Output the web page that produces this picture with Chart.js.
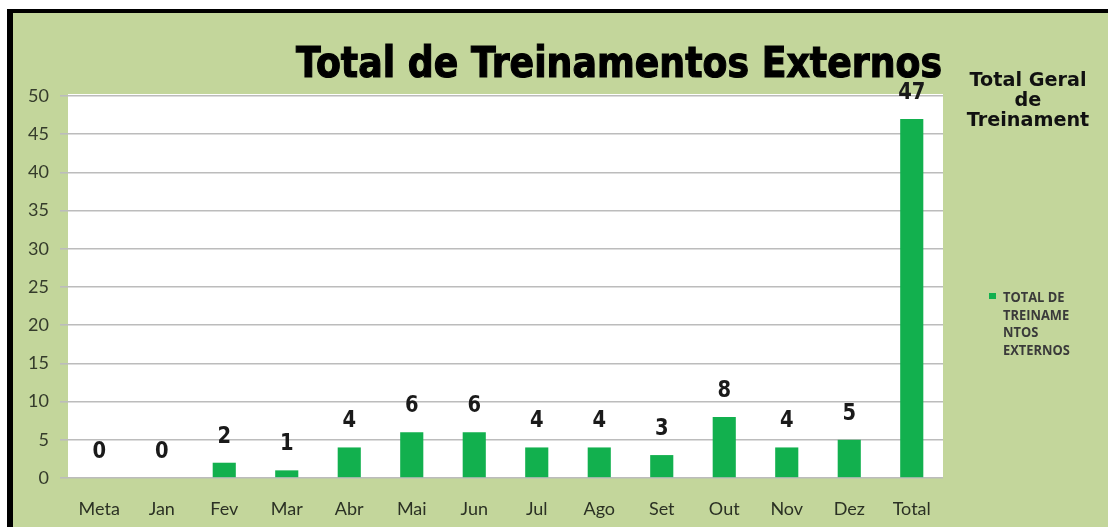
<!DOCTYPE html>
<html>
<head>
<meta charset="utf-8">
<title>Total de Treinamentos Externos</title>
<script src="https://cdn.jsdelivr.net/npm/chart.js@4.4.1/dist/chart.umd.min.js"></script>
<style>
  html, body { margin: 0; padding: 0; background: #fff; }
  #wrap { width: 1108px; height: 527px; }
</style>
</head>
<body>
<div id="wrap"><canvas id="chart"></canvas></div>
<script>
const months = ['Meta', 'Jan', 'Fev', 'Mar', 'Abr', 'Mai', 'Jun', 'Jul', 'Ago', 'Set', 'Out', 'Nov', 'Dez', 'Total'];
const treinamentos = [0, 0, 2, 1, 4, 6, 6, 4, 4, 3, 8, 4, 5, 47];
const yTicks = [0, 5, 10, 15, 20, 25, 30, 35, 40, 45, 50];

const chartTitle = 'Total de Treinamentos Externos';
const legendTitle = ['Total Geral', 'de', 'Treinament'];
const seriesLabel = ['TOTAL DE', 'TREINAME', 'NTOS', 'EXTERNOS'];

const green = '#c3d69b';
const barColor = '#12b04e';

// background, black frame and white plot area
const frame = {
  id: 'frame',
  beforeDraw(chart) {
    const { ctx, width, height, chartArea } = chart;
    ctx.save();
    ctx.fillStyle = '#ffffff';
    ctx.fillRect(0, 0, width, height);
    ctx.fillStyle = '#000000';
    ctx.fillRect(7, 9, width - 7, height - 9);
    ctx.fillStyle = green;
    ctx.fillRect(13, 13, width - 13, height - 13);
    ctx.fillStyle = '#ffffff';
    ctx.fillRect(chartArea.left, chartArea.top - 2, chartArea.right - chartArea.left, chartArea.bottom - chartArea.top + 2);
    ctx.restore();
  }
};

// value labels above bars
const barLabels = {
  id: 'barLabels',
  afterDatasetsDraw(chart) {
    const { ctx } = chart;
    const meta = chart.getDatasetMeta(0);
    ctx.save();
    ctx.font = 'bold 23px "DejaVu Sans"';
    ctx.fillStyle = '#1a1a1a';
    ctx.textAlign = 'center';
    ctx.textBaseline = 'middle';
    meta.data.forEach((bar, i) => {
      ctx.save();
      ctx.translate(bar.x, bar.y - 26);
      ctx.scale(0.85, 1);
      ctx.fillText(String(treinamentos[i]), 0, 0);
      ctx.restore();
    });
    ctx.restore();
  }
};

// title and the legend on the right
const texts = {
  id: 'texts',
  afterDraw(chart) {
    const { ctx } = chart;
    ctx.save();
    ctx.fillStyle = '#000000';
    ctx.strokeStyle = '#000000';
    ctx.lineWidth = 1.2;
    ctx.textBaseline = 'alphabetic';
    ctx.textAlign = 'center';

    ctx.font = 'bold 42px "DejaVu Sans"';
    const w = ctx.measureText(chartTitle).width;
    const sx = 646 / w;
    ctx.save();
    ctx.translate(619, 77);
    ctx.scale(sx, 1);
    ctx.fillText(chartTitle, 0, 0);
    ctx.strokeText(chartTitle, 0, 0);
    ctx.restore();

    ctx.font = 'bold 20px "DejaVu Sans"';
    ctx.fillStyle = '#111111';
    ctx.save();
    ctx.translate(1028, 0);
    ctx.scale(0.96, 1);
    legendTitle.forEach((line, i) => {
      ctx.fillText(line, 0, 86 + i * 20);
    });
    ctx.restore();

    ctx.fillStyle = barColor;
    ctx.fillRect(989, 293, 7, 6);
    ctx.fillStyle = '#3a3a3a';
    ctx.textAlign = 'left';
    ctx.font = 'bold 14px "Open Sans"';
    seriesLabel.forEach((line, i) => {
      ctx.save();
      ctx.translate(1003, 302 + i * 17.5);
      ctx.scale(0.92, 1);
      ctx.fillText(line, 0, 0);
      ctx.restore();
    });
    ctx.restore();
  }
};

new Chart(document.getElementById('chart'), {
  type: 'bar',
  data: {
    labels: months,
    datasets: [{
      label: seriesLabel.join(' '),
      data: treinamentos,
      backgroundColor: barColor,
      borderWidth: 0,
      barPercentage: 0.37,
      categoryPercentage: 1
    }]
  },
  options: {
    responsive: true,
    maintainAspectRatio: false,
    animation: false,
    layout: {
      padding: { top: 96, right: 165, left: 0, bottom: 0 }
    },
    plugins: {
      legend: { display: false },
      title: { display: false },
      tooltip: { enabled: false }
    },
    scales: {
      x: {
        grid: { display: false, drawTicks: false },
        border: { display: false },
        ticks: {
          color: '#2b3124',
          font: { family: 'Lato', size: 18 },
          padding: 20,
          maxRotation: 0,
          autoSkip: false
        },
        afterFit: scale => { scale.height = 49; }
      },
      y: {
        min: 0,
        max: 50,
        afterBuildTicks: scale => { scale.ticks = yTicks.map(v => ({ value: v })); },
        grid: {
          color: '#bcbcbc',
          lineWidth: 1.6,
          tickLength: 8,
          tickColor: '#bcbcbc'
        },
        border: { display: false },
        ticks: {
          color: '#343b2b',
          font: { family: 'Lato', size: 18 },
          padding: 11
        },
        afterFit: scale => { scale.width = 68; }
      }
    }
  },
  plugins: [frame, barLabels, texts]
});
</script>
</body>
</html>
